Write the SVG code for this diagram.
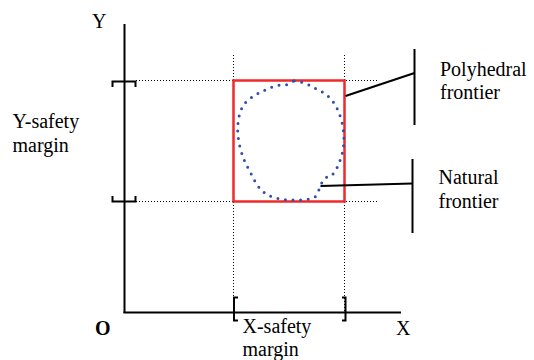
<svg xmlns="http://www.w3.org/2000/svg" width="534" height="360" viewBox="0 0 534 360">
<style>
.axis{stroke:#000;stroke-width:2;fill:none}
.dot{stroke:#000;stroke-width:1;stroke-dasharray:1 2;fill:none}
.br{stroke:#000;stroke-width:2;fill:none}
.ln{stroke:#000;stroke-width:2;fill:none}
</style>
<rect width="534" height="360" fill="#fff"/>
<g id="guides">
<line class="dot" x1="136" y1="80.5" x2="378" y2="80.5"/>
<line class="dot" x1="136" y1="201.5" x2="378" y2="201.5"/>
<line class="dot" x1="233.5" y1="55" x2="233.5" y2="312"/>
<line class="dot" x1="344.5" y1="55" x2="344.5" y2="312"/>
</g>
<g id="axes">
<line class="axis" x1="124.5" y1="24" x2="124.5" y2="313"/>
<line class="axis" x1="123.5" y1="312.5" x2="401" y2="312.5"/>
</g>
<g id="y-brackets">
<path class="br" d="M112.5,87 V81.5 H135.5 V87"/>
<path class="br" d="M112.5,196 V201.5 H135.5 V196"/>
</g>
<g id="x-brackets">
<path class="br" d="M238,297.5 H234 V320.5 H238"/>
<path class="br" d="M342,297.5 H345.5 V320.5 H342"/>
</g>
<g id="polyhedral-frontier">
<rect x="233.5" y="80.5" width="111" height="121" fill="none" stroke="#ee2a2a" stroke-width="2.5"/>
</g>
<g id="natural-frontier">
<path d="M294.3,80.7 L300.7,82 308.3,84.7 315.7,88.7 322.7,92.3 329,97 334.3,103.3 338,110.3 340.7,117.7 342.7,125.3 343.7,133.3 344,141 343.3,149.3 341.3,157 338.7,164.3 335.7,170.3 331.7,175.7 326.7,177 322,182.3 319,189.7 315.3,196.7 308.3,199.3 300,200 292,200 284,199.7 276,198 268.7,195.7 262,191 257,185 253,177.7 249.3,170.3 245.7,163.7 242.7,156.3 240.3,148.7 238.7,141 237.7,133.3 237.7,125.7 238.7,117.7 240.7,110.3 244.7,103.3 250.7,98 257.7,93.7 264.7,90.3 272,87 280,85 287.7,84.7 Z" fill="none" stroke="#2f4fa8" stroke-width="3" stroke-linecap="round" stroke-dasharray="0 7.6"/>
</g>
<g id="connectors">
<line class="ln" x1="345.5" y1="96" x2="414.5" y2="73"/>
<line class="ln" x1="414.5" y1="49" x2="414.5" y2="125"/>
<line class="ln" x1="320.5" y1="186" x2="412.5" y2="183.5"/>
<line class="ln" x1="412.5" y1="159" x2="412.5" y2="233"/>
</g>
<g id="labels" font-family="Liberation Serif, Times New Roman, serif" font-size="20" fill="#000">
<text x="92" y="28">Y</text>
<text x="396" y="335">X</text>
<text x="95" y="335" font-weight="bold">O</text>
<text x="12.5" y="128">Y-safety</text>
<text x="12.5" y="152">margin</text>
<text x="242.5" y="333">X-safety</text>
<text x="242.5" y="356">margin</text>
<text x="440" y="76">Polyhedral</text>
<text x="440" y="99">frontier</text>
<text x="438.5" y="184">Natural</text>
<text x="438.5" y="208">frontier</text>
</g>
</svg>
